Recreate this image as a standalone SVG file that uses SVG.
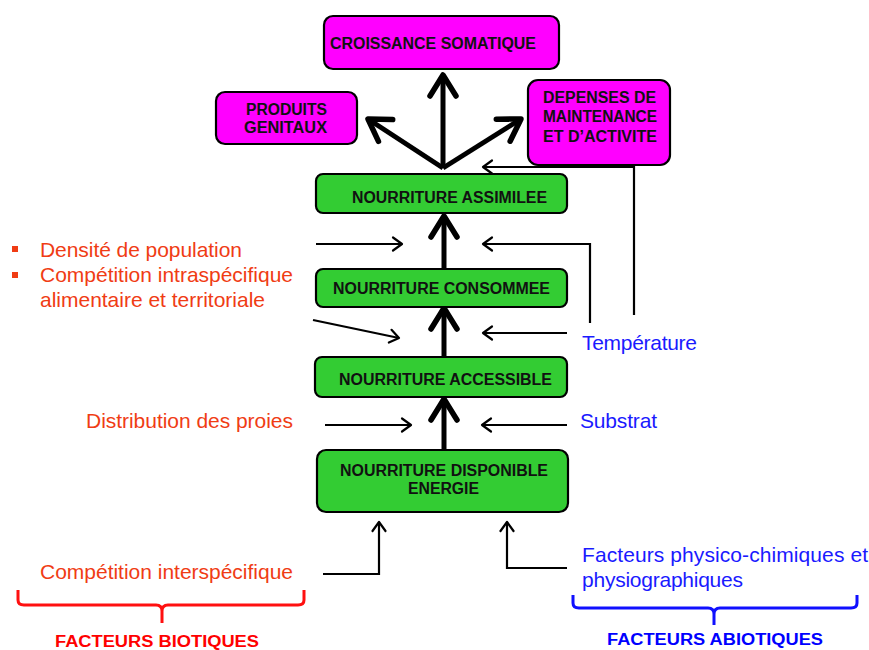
<svg xmlns="http://www.w3.org/2000/svg" width="869" height="650" viewBox="0 0 869 650">
<style>
.mag{fill:#ff00ff;stroke:#000;stroke-width:2.2}
.grn{fill:#33cc33;stroke:#000;stroke-width:2.2}
.bt{font-family:"Liberation Sans",Arial,sans-serif;font-weight:bold;font-size:16px;fill:#111}
.rt{font-family:"Liberation Sans",Arial,sans-serif;font-size:21px;fill:#f03c14}
.bl{font-family:"Liberation Sans",Arial,sans-serif;font-size:21px;fill:#1a1aff}
.thin{fill:none;stroke:#000;stroke-width:2.2;marker-end:url(#ah)}
.thick{fill:none;stroke:#000;stroke-width:5;marker-end:url(#ahb)}
</style>
<defs>
<marker id="ah" markerUnits="userSpaceOnUse" orient="auto" refX="10" refY="7" markerWidth="14" markerHeight="14" overflow="visible">
<path d="M1,0.5 L10,7 L1,13.5" fill="none" stroke="#000" stroke-width="2.2" stroke-linecap="round" stroke-linejoin="round"/>
</marker>
<marker id="ahb" markerUnits="userSpaceOnUse" orient="auto" refX="23" refY="14" markerWidth="30" markerHeight="30" overflow="visible">
<path d="M2,1 L23,14 L2,27" fill="none" stroke="#000" stroke-width="5.5" stroke-linecap="round" stroke-linejoin="round"/>
</marker>
</defs>
<rect width="869" height="650" fill="#fff"/>

<g id="connectors">
<path class="thick" d="M443,168 L443,75"/>
<path class="thick" d="M443,168 L368,119"/>
<path class="thick" d="M443,168 L521,119"/>
<path class="thick" d="M444,268 L444,216"/>
<path class="thick" d="M444,357 L444,308"/>
<path class="thick" d="M444,449 L444,399"/>
<path class="thin" d="M316,244 L402,244"/>
<path class="thin" d="M590,323 L590,244 L483,244"/>
<path class="thin" d="M634,315 L634,167 L483,167"/>
<path class="thin" d="M313,320 L399,338"/>
<path class="thin" d="M567,333 L483,333"/>
<path class="thin" d="M325,425 L411,425"/>
<path class="thin" d="M567,425 L482,425"/>
<path class="thin" d="M323,574 L379,574 L379,522"/>
<path class="thin" d="M567,568 L507,568 L507,522"/>
</g>

<g id="croissance">
<rect class="mag" x="324" y="16" width="235" height="53" rx="9"/>
<text class="bt" x="330" y="49" textLength="206" lengthAdjust="spacingAndGlyphs">CROISSANCE SOMATIQUE</text>
</g>
<g id="produits">
<rect class="mag" x="216" y="92" width="141" height="52" rx="9"/>
<text class="bt" x="246" y="115" textLength="81" lengthAdjust="spacingAndGlyphs">PRODUITS</text>
<text class="bt" x="244" y="133" textLength="83" lengthAdjust="spacingAndGlyphs">GENITAUX</text>
</g>
<g id="depenses">
<rect class="mag" x="528" y="80" width="142" height="85" rx="10"/>
<text class="bt" x="543" y="103" textLength="113" lengthAdjust="spacingAndGlyphs">DEPENSES DE</text>
<text class="bt" x="543" y="122" textLength="114" lengthAdjust="spacingAndGlyphs">MAINTENANCE</text>
<text class="bt" x="543" y="142" textLength="114" lengthAdjust="spacingAndGlyphs">ET  D’ACTIVITE</text>
</g>
<g id="assimilee">
<rect class="grn" x="316" y="174" width="251" height="39" rx="7"/>
<text class="bt" x="352" y="203" textLength="195" lengthAdjust="spacingAndGlyphs">NOURRITURE ASSIMILEE</text>
</g>
<g id="consommee">
<rect class="grn" x="316" y="269" width="251" height="38" rx="7"/>
<text class="bt" x="333" y="294" textLength="217" lengthAdjust="spacingAndGlyphs">NOURRITURE CONSOMMEE</text>
</g>
<g id="accessible">
<rect class="grn" x="315" y="357" width="252" height="40" rx="7"/>
<text class="bt" x="339" y="385" textLength="213" lengthAdjust="spacingAndGlyphs">NOURRITURE ACCESSIBLE</text>
</g>
<g id="disponible">
<rect class="grn" x="317" y="450" width="251" height="62" rx="9"/>
<text class="bt" x="340" y="476" textLength="208" lengthAdjust="spacingAndGlyphs">NOURRITURE DISPONIBLE</text>
<text class="bt" x="408" y="494" textLength="71" lengthAdjust="spacingAndGlyphs">ENERGIE</text>
</g>

<g id="biotiques">
<rect x="12" y="246" width="6" height="6" fill="#f03c14"/>
<rect x="12" y="272" width="6" height="6" fill="#f03c14"/>
<text class="rt" x="40" y="257" textLength="202">Densité de population</text>
<text class="rt" x="40" y="282" textLength="253">Compétition intraspécifique</text>
<text class="rt" x="40" y="307" textLength="225">alimentaire et territoriale</text>
<text class="rt" x="86" y="428" textLength="207">Distribution des proies</text>
<text class="rt" x="40" y="579" textLength="253">Compétition interspécifique</text>
<path d="M18,590 L18,600 Q18,605 24,605 L156,605 Q162,605 162,611 L162,623 M162,611 Q162,605 168,605 L298,605 Q304,605 304,600 L304,590" fill="none" stroke="#ff1010" stroke-width="3"/>
<text x="55" y="647" textLength="204" lengthAdjust="spacingAndGlyphs" style="font-family:'Liberation Sans',Arial,sans-serif;font-weight:bold;font-size:16px;fill:#ff0000">FACTEURS BIOTIQUES</text>
</g>

<g id="abiotiques">
<text class="bl" x="582" y="350" textLength="115">Température</text>
<text class="bl" x="580" y="428" textLength="77">Substrat</text>
<text class="bl" x="582" y="562" textLength="286">Facteurs physico-chimiques et</text>
<text class="bl" x="582" y="587" textLength="161">physiographiques</text>
<path d="M573,595 L573,603 Q573,608 579,608 L708,608 Q714,608 714,614 L714,625 M714,614 Q714,608 720,608 L851,608 Q857,608 857,603 L857,595" fill="none" stroke="#1010ff" stroke-width="3"/>
<text x="607" y="645" textLength="216" lengthAdjust="spacingAndGlyphs" style="font-family:'Liberation Sans',Arial,sans-serif;font-weight:bold;font-size:16px;fill:#0000ff">FACTEURS ABIOTIQUES</text>
</g>
</svg>
